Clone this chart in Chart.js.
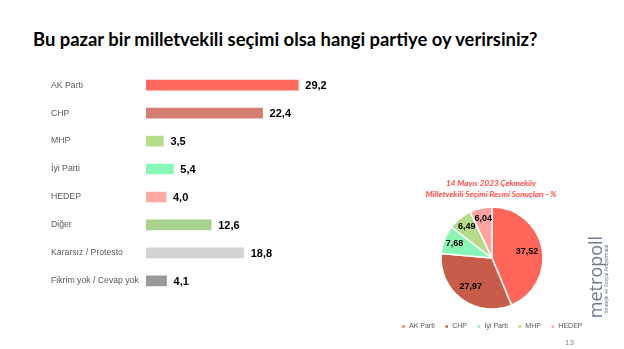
<!DOCTYPE html>
<html>
<head>
<meta charset="utf-8">
<script src="https://cdn.jsdelivr.net/npm/chart.js@4"></script>
<style>
  body { margin:0; background:#fff; width:624px; height:349px; position:relative; overflow:hidden; font-family:"Liberation Sans", Arial, sans-serif; }
  #title { position:absolute; left:33px; top:28px; font-family:Lato, sans-serif; font-weight:bold; font-size:18.4px; color:#000; white-space:nowrap; }
  #barBox { position:absolute; left:0; top:63px; width:360px; height:240px; }
  #pieBox { position:absolute; left:376px; top:200px; width:232px; height:140px; }
  #pieTitle { position:absolute; left:392px; top:178px; width:198px; text-align:center; font-family:Lato, sans-serif; font-style:italic; font-weight:bold; font-size:8.2px; line-height:11px; color:#FF4F47; }
  #logo { position:absolute; left:595px; top:277px; transform:translate(-50%,-50%) rotate(-90deg); font-family:"Open Sans", sans-serif; font-size:18px; color:#6E7C92; white-space:nowrap; }
  #logoSub { position:absolute; left:606px; top:279px; transform:translate(-50%,-50%) rotate(-90deg); font-size:5px; color:#6E7C92; white-space:nowrap; }
  #page { position:absolute; left:565px; top:338px; font-size:8px; color:#8a8a8a; }
</style>
</head>
<body>
<div id="title">Bu pazar bir milletvekili seçimi olsa hangi partiye oy verirsiniz?</div>
<div id="barBox"><canvas id="barChart"></canvas></div>
<div id="pieTitle">14 Mayıs 2023 Çekmeköy<br>Milletvekili Seçimi Resmi Sonuçları - %</div>
<div id="pieBox"><canvas id="pieChart"></canvas></div>
<div id="logo">metropoll</div>
<div id="logoSub">Stratejik ve Sosyal Araştırmalar</div>
<div id="page">13</div>
<script>
let barLabels = ['AK Parti', 'CHP', 'MHP', 'İyi Parti', 'HEDEP', 'Diğer', 'Kararsız / Protesto', 'Fikrim yok / Cevap yok'];
let barValues = [29.2, 22.4, 3.5, 5.4, 4.0, 12.6, 18.8, 4.1];
let barColors = ['#FF6A5E', '#D47E72', '#B6DD8B', '#88F7B5', '#FFA8A1', '#A9D18E', '#D3D3D3', '#999999'];

let pieLabels = ['AK Parti', 'CHP', 'İyi Parti', 'MHP', 'HEDEP'];
let pieValues = [37.52, 27.97, 7.68, 6.49, 6.04];
let pieColors = ['#FF6659', '#C85C4A', '#88F5B4', '#B4DB88', '#FFA39E'];

function fmt(v, d) {
    return v.toFixed(d).replace('.', ',');
}

// value labels at the end of each bar
let barValueLabels = {
    id: 'barValueLabels',
    afterDatasetsDraw(chart) {
        let ctx = chart.ctx;
        ctx.save();
        ctx.font = 'bold 11px "Liberation Sans", Arial';
        ctx.fillStyle = '#000';
        ctx.textBaseline = 'middle';
        chart.getDatasetMeta(0).data.forEach((bar, i) => {
            ctx.fillText(fmt(barValues[i], 1), bar.x + 6, bar.y + 1);
        });
        ctx.restore();
    }
};

// value labels inside each slice
let pieValueLabels = {
    id: 'pieValueLabels',
    afterDatasetsDraw(chart) {
        let ctx = chart.ctx;
        ctx.save();
        ctx.font = 'bold 9px "Liberation Sans", Arial';
        ctx.fillStyle = '#000';
        ctx.textAlign = 'center';
        ctx.textBaseline = 'middle';
        chart.getDatasetMeta(0).data.forEach((arc, i) => {
            let p = arc.getProps(['x', 'y', 'startAngle', 'endAngle', 'outerRadius']);
            let mid = (p.startAngle + p.endAngle) / 2;
            let r = p.outerRadius * (pieValues[i] > 20 ? 0.7 : 0.79);
            ctx.fillText(fmt(pieValues[i], 2), p.x + Math.cos(mid) * r, p.y + Math.sin(mid) * r);
        });
        ctx.restore();
    }
};

new Chart(document.getElementById('barChart'), {
    type: 'bar',
    data: {
        labels: barLabels,
        datasets: [{
            data: barValues,
            backgroundColor: barColors,
            borderColor: 'rgba(255,255,255,0.35)',
            borderWidth: 1,
            barThickness: 12
        }]
    },
    options: {
        indexAxis: 'y',
        responsive: true,
        maintainAspectRatio: false,
        animation: false,
        layout: { padding: { left: 51, right: 4, top: 0, bottom: 0 } },
        plugins: { legend: { display: false }, tooltip: { enabled: false } },
        scales: {
            x: { display: false, min: 0, max: 40 },
            y: {
                grid: { display: false },
                border: { display: false },
                ticks: {
                    crossAlign: 'far',
                    color: '#595959',
                    font: { family: '"Liberation Sans", Arial', size: 8.7 }
                },
                afterFit(scale) { scale.width = 95; }
            }
        }
    },
    plugins: [barValueLabels]
});

new Chart(document.getElementById('pieChart'), {
    type: 'pie',
    data: {
        labels: pieLabels,
        datasets: [{
            data: pieValues,
            backgroundColor: pieColors,
            borderColor: '#fff',
            borderWidth: 1.5,
            radius: 51
        }]
    },
    options: {
        responsive: true,
        maintainAspectRatio: false,
        animation: false,
        layout: { padding: { top: 3, bottom: 0 } },
        plugins: {
            tooltip: { enabled: false },
            legend: {
                position: 'bottom',
                labels: {
                    boxWidth: 4,
                    boxHeight: 4,
                    padding: 10,
                    color: '#595959',
                    font: { family: '"Liberation Sans", Arial', size: 7 }
                }
            }
        }
    },
    plugins: [pieValueLabels]
});
</script>
</body>
</html>
